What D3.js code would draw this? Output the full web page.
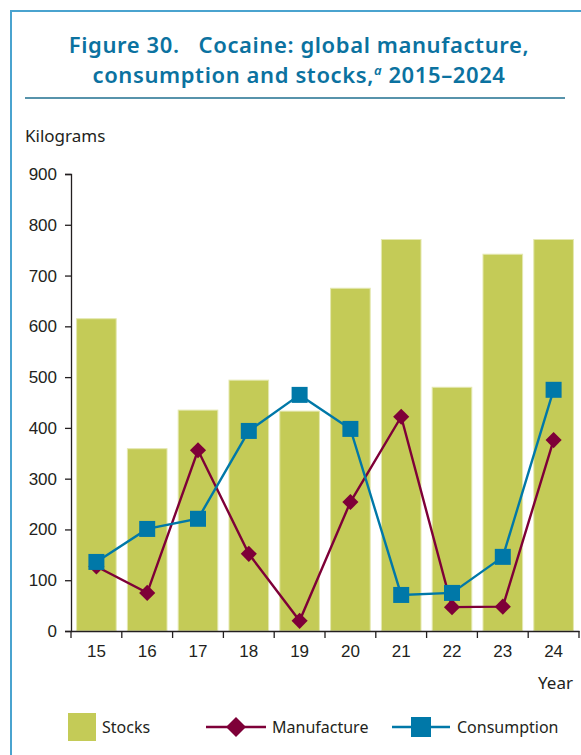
<!DOCTYPE html>
<html lang="en">
<head>
<meta charset="utf-8">
<title>Figure 30</title>
<script src="https://d3js.org/d3.v7.min.js"></script>
<style>
  body { margin: 0; background: #fff; }
  svg { display: block; font-family: "Noto Sans", "Open Sans", sans-serif; }
  .axis text { font-size: 17px; fill: #231f20; }
  .axis path, .axis line { stroke: #231f20; stroke-width: 1.3; }
</style>
</head>
<body>
<svg id="chart" width="581" height="755"></svg>
<script>
// data (kilograms)
var years = ["15", "16", "17", "18", "19", "20", "21", "22", "23", "24"];
var stocks = [615, 359, 435, 494, 433, 675, 771, 480, 742, 771];
var manufacture = [127, 75, 356, 152, 20, 254, 422, 47, 48, 376];
var consumption = [136, 201, 221, 394, 465, 398, 71, 75, 146, 475];
var yTicks = [0, 100, 200, 300, 400, 500, 600, 700, 800, 900];

var stockCol = "#c4cb57", manuCol = "#7e0038", consCol = "#0078a8";

var svg = d3.select("#chart");

// frame
svg.append("line").attr("x1", 11).attr("x2", 11).attr("y1", 10).attr("y2", 755)
  .attr("stroke", "#4aa3cf").attr("stroke-width", 2);
svg.append("line").attr("x1", 10).attr("x2", 581).attr("y1", 11).attr("y2", 11)
  .attr("stroke", "#4aa3cf").attr("stroke-width", 2);

// title
var title = svg.append("text").attr("text-anchor", "middle")
  .attr("fill", "#0b72a0").style("font-weight", "600").style("font-size", "22px")
  .style("letter-spacing", "0.6px");
title.append("tspan").attr("x", 299).attr("y", 53).attr("xml:space", "preserve")
  .text("Figure 30.   Cocaine: global manufacture,");
var t2 = title.append("tspan").attr("x", 299).attr("y", 83);
t2.append("tspan").text("consumption and stocks,");
t2.append("tspan").attr("dy", -8).style("font-size", "13px").style("font-style", "italic").text("a");
t2.append("tspan").attr("dy", 8).text(" 2015\u20132024");
svg.append("line").attr("x1", 25).attr("x2", 565).attr("y1", 98).attr("y2", 98)
  .attr("stroke", "#1f6f8f").attr("stroke-width", 1.3);

// scales
var x = d3.scaleBand().domain(years).range([71, 579]).paddingInner(0.22).paddingOuter(0.11);
var xc = d3.scaleBand().domain(years).range([71, 579]);
var y = d3.scaleLinear().domain([0, 900]).range([631, 174]);

svg.append("text").attr("x", 25).attr("y", 142).attr("fill", "#231f20")
  .style("font-size", "17px").text("Kilograms");

// bars
svg.append("g").selectAll("rect").data(stocks).enter().append("rect")
  .attr("x", function(d, i) { return x(years[i]); })
  .attr("y", function(d) { return y(d); })
  .attr("width", x.bandwidth())
  .attr("height", function(d) { return y(0) - y(d); })
  .attr("fill", stockCol).attr("stroke", "#e4e8b0").attr("stroke-width", 1);

// axes
svg.append("g").attr("class", "axis").attr("transform", "translate(71,0)")
  .call(d3.axisLeft(y).tickValues(yTicks).tickSize(6).tickPadding(8).tickSizeOuter(6));
var xa = svg.append("g").attr("class", "axis").attr("transform", "translate(0,631)")
  .call(d3.axisBottom(xc).tickSize(0).tickPadding(14).tickSizeOuter(0));
xa.selectAll(".tick line").remove();
xa.selectAll("line.sep").data(d3.range(years.length + 1)).enter().append("line")
  .attr("class", "sep")
  .attr("x1", function(i) { return 71 + i * xc.bandwidth(); })
  .attr("x2", function(i) { return 71 + i * xc.bandwidth(); })
  .attr("y1", 0).attr("y2", 7);
svg.append("text").attr("x", 573).attr("y", 689).attr("text-anchor", "end")
  .attr("fill", "#231f20").style("font-size", "17px").text("Year");

function cx(i) { return xc(years[i]) + xc.bandwidth() / 2; }
var line = d3.line().x(function(d, i) { return cx(i); }).y(function(d) { return y(d); });

// manufacture
svg.append("path").datum(manufacture).attr("d", line)
  .attr("fill", "none").attr("stroke", manuCol).attr("stroke-width", 2.4);
svg.append("g").selectAll("path").data(manufacture).enter().append("path")
  .attr("d", d3.symbol(d3.symbolSquare, 130))
  .attr("transform", function(d, i) { return "translate(" + cx(i) + "," + y(d) + ") rotate(45)"; })
  .attr("fill", manuCol);

// consumption
svg.append("path").datum(consumption).attr("d", line)
  .attr("fill", "none").attr("stroke", consCol).attr("stroke-width", 2.4);
svg.append("g").selectAll("rect").data(consumption).enter().append("rect")
  .attr("x", function(d, i) { return cx(i) - 8; })
  .attr("y", function(d) { return y(d) - 8; })
  .attr("width", 16).attr("height", 16)
  .attr("fill", consCol);

// legend
var lg = svg.append("g").style("font-size", "16px").attr("fill", "#231f20");
lg.append("rect").attr("x", 68).attr("y", 713).attr("width", 28).attr("height", 28).attr("fill", stockCol);
lg.append("text").attr("x", 102).attr("y", 733).text("Stocks");
lg.append("line").attr("x1", 206).attr("x2", 266).attr("y1", 727).attr("y2", 727)
  .attr("stroke", manuCol).attr("stroke-width", 2.4);
lg.append("path").attr("d", d3.symbol(d3.symbolSquare, 200))
  .attr("transform", "translate(236,727) rotate(45)").attr("fill", manuCol);
lg.append("text").attr("x", 272).attr("y", 733).text("Manufacture");
lg.append("line").attr("x1", 392).attr("x2", 450).attr("y1", 727).attr("y2", 727)
  .attr("stroke", consCol).attr("stroke-width", 2.4);
lg.append("rect").attr("x", 411).attr("y", 717).attr("width", 20).attr("height", 20).attr("fill", consCol);
lg.append("text").attr("x", 457).attr("y", 733).text("Consumption");
</script>
</body>
</html>
